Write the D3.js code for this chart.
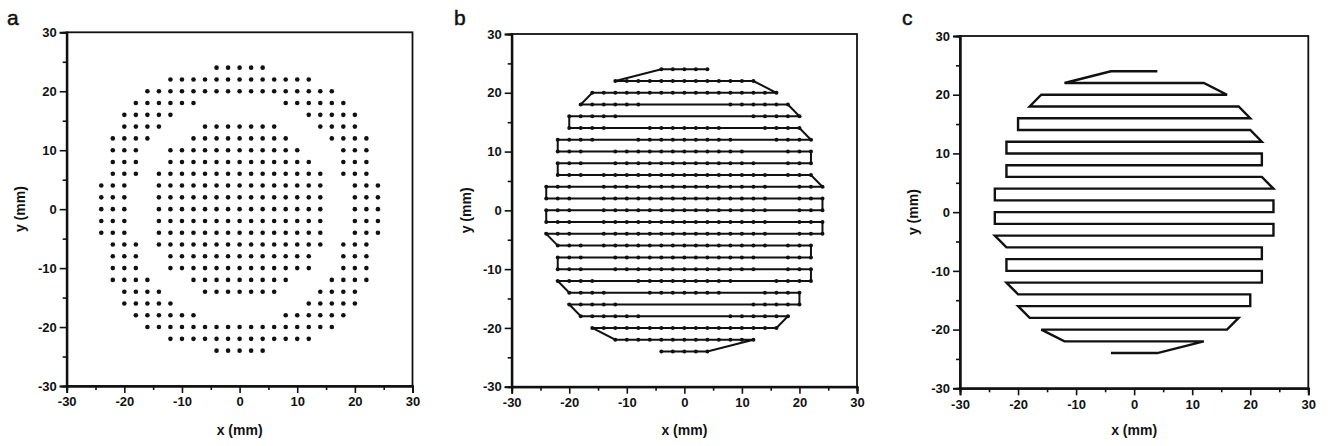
<!DOCTYPE html>
<html><head><meta charset="utf-8">
<script src="https://cdn.jsdelivr.net/npm/d3@7"></script>
<style>
body{margin:0;background:#fff}
svg{display:block}
text{font-family:"Liberation Sans",Arial,Helvetica,sans-serif;fill:#111}
</style>
</head><body>
<svg id="chart" width="1330" height="446"></svg>
<script>
// ---- data ----
const panelLetters = ["a", "b", "c"];
const axisDomain = [-30, 30];
const majorTicks = [-30, -20, -10, 0, 10, 20, 30];
const minorTicks = [-25, -15, -5, 5, 15, 25];
const xLabel = "x (mm)";
const yLabel = "y (mm)";

// Measurement points (panel a, and dots of panel b): per row y, runs [xStart, xEnd] on the 2-mm grid
const rowY = [24, 22, 20, 18, 16, 14, 12, 10, 8, 6, 4, 2, 0, -2, -4, -6, -8, -10, -12, -14, -16, -18, -20, -22, -24];
const rowRuns = [
  [[-4, 4]],
  [[-12, 12]],
  [[-16, 16]],
  [[-18, -8], [8, 18]],
  [[-20, -12], [12, 20]],
  [[-20, -14], [-6, 6], [14, 20]],
  [[-22, -16], [-8, 8], [16, 22]],
  [[-22, -18], [-12, 10], [18, 22]],
  [[-22, -18], [-12, 12], [18, 22]],
  [[-22, -18], [-14, 14], [18, 22]],
  [[-24, -20], [-14, 14], [20, 24]],
  [[-24, -20], [-14, 14], [20, 24]],
  [[-24, -20], [-14, 14], [20, 24]],
  [[-24, -20], [-14, 14], [20, 24]],
  [[-24, -20], [-14, 14], [20, 24]],
  [[-22, -18], [-14, 14], [18, 22]],
  [[-22, -18], [-12, 12], [18, 22]],
  [[-22, -18], [-12, 12], [18, 22]],
  [[-22, -16], [-8, 8], [16, 22]],
  [[-20, -14], [-6, 6], [14, 20]],
  [[-20, -12], [12, 20]],
  [[-18, -8], [8, 18]],
  [[-16, 16]],
  [[-12, 12]],
  [[-4, 4]]
];
const gridStep = 2;

// Scan path vertices (panels b and c)
const pathX = [4, -4, -12, 12, 16, -16, -18, 18, 20, -20, -20, 20, 22, -22, -22, 22, 22, -22, -22, 22, 24, -24, -24, 24, 24, -24, -24, 24, 24, -24, -22, 22, 22, -22, -22, 22, 22, -22, -20, 20, 20, -20, -18, 18, 16, -16, -12, 12, 4, -4];
const pathY = [24, 24, 22, 22, 20, 20, 18, 18, 16, 16, 14, 14, 12, 12, 10, 10, 8, 8, 6, 6, 4, 4, 2, 2, 0, 0, -2, -2, -4, -4, -6, -6, -8, -8, -10, -10, -12, -12, -14, -14, -16, -16, -18, -18, -20, -20, -22, -22, -24, -24];

// ---- build ----
const points = [];
rowY.forEach((y, i) => {
  rowRuns[i].forEach(([a, b]) => {
    for (let x = a; x <= b + 1e-9; x += gridStep) points.push({x, y});
  });
});
const pathPts = pathX.map((x, i) => ({x, y: pathY[i]}));

const layout = [
  {left: 66.7, right: 412.5, top: 32.3, bottom: 386, letterX: 7, yLabX: 20},
  {left: 511.7, right: 857, top: 34, bottom: 386.7, letterX: 454, yLabX: 466},
  {left: 960, right: 1308.3, top: 36, bottom: 388.3, letterX: 902, yLabX: 913}
];

const svg = d3.select("#chart");

layout.forEach((L, pi) => {
  const x = d3.scaleLinear().domain(axisDomain).range([L.left, L.right]);
  const y = d3.scaleLinear().domain(axisDomain).range([L.bottom, L.top]);
  const g = svg.append("g");

  // frame
  g.append("rect")
    .attr("x", L.left).attr("y", L.top)
    .attr("width", L.right - L.left).attr("height", L.bottom - L.top)
    .attr("fill", "none").attr("stroke", "#111").attr("stroke-width", 1.8);

  const fmt = d => d < 0 ? "-" + Math.abs(d) : String(d);
  // axes
  const xm = g.append("g").attr("transform", `translate(0,${L.bottom})`)
    .call(d3.axisBottom(x).tickValues(minorTicks).tickSize(4).tickFormat(() => ""));
  const ym = g.append("g").attr("transform", `translate(${L.left},0)`)
    .call(d3.axisLeft(y).tickValues(minorTicks).tickSize(4).tickFormat(() => ""));
  const xa = g.append("g").attr("transform", `translate(0,${L.bottom})`)
    .call(d3.axisBottom(x).tickValues(majorTicks).tickSize(7).tickPadding(4).tickFormat(fmt));
  const ya = g.append("g").attr("transform", `translate(${L.left},0)`)
    .call(d3.axisLeft(y).tickValues(majorTicks).tickSize(7).tickPadding(3).tickFormat(fmt));
  [xa, xm, ya, ym].forEach(a => {
    a.select(".domain").attr("stroke", "#111").attr("stroke-width", 2);
    a.selectAll(".tick line").attr("stroke", "#111").attr("stroke-width", 1.6);
  });
  [xa, ya].forEach(a => {
    a.selectAll(".tick text")
      .attr("font-family", '"Liberation Sans",Arial,sans-serif')
      .attr("font-size", 13).attr("font-weight", "bold").attr("fill", "#111");
  });

  // axis titles
  g.append("text")
    .attr("x", (L.left + L.right) / 2).attr("y", 435)
    .attr("text-anchor", "middle").attr("font-size", 14).attr("font-weight", "bold")
    .text(xLabel);
  g.append("text")
    .attr("transform", `translate(${L.yLabX},${(L.top + L.bottom) / 2}) rotate(-90)`)
    .attr("text-anchor", "middle").attr("dominant-baseline", "central")
    .attr("font-size", 14).attr("font-weight", "bold")
    .text(yLabel);

  // panel letter
  g.append("text")
    .attr("x", L.letterX).attr("y", 25)
    .attr("font-size", 21).attr("stroke", "#111").attr("stroke-width", 0.5)
    .text(panelLetters[pi]);

  // path (b, c)
  if (pi > 0) {
    const line = d3.line().x(d => x(d.x)).y(d => y(d.y));
    g.append("path").datum(pathPts)
      .attr("d", line)
      .attr("fill", "none").attr("stroke", "#111")
      .attr("stroke-width", pi === 1 ? 2.0 : 2.4)
      .attr("stroke-linejoin", "miter");
  }
  // dots (a, b)
  if (pi < 2) {
    g.append("g").selectAll("circle").data(points).join("circle")
      .attr("cx", d => x(d.x)).attr("cy", d => y(d.y))
      .attr("r", pi === 0 ? 2.3 : 2.0)
      .attr("fill", "#111");
  }
});
</script>
</body></html>
